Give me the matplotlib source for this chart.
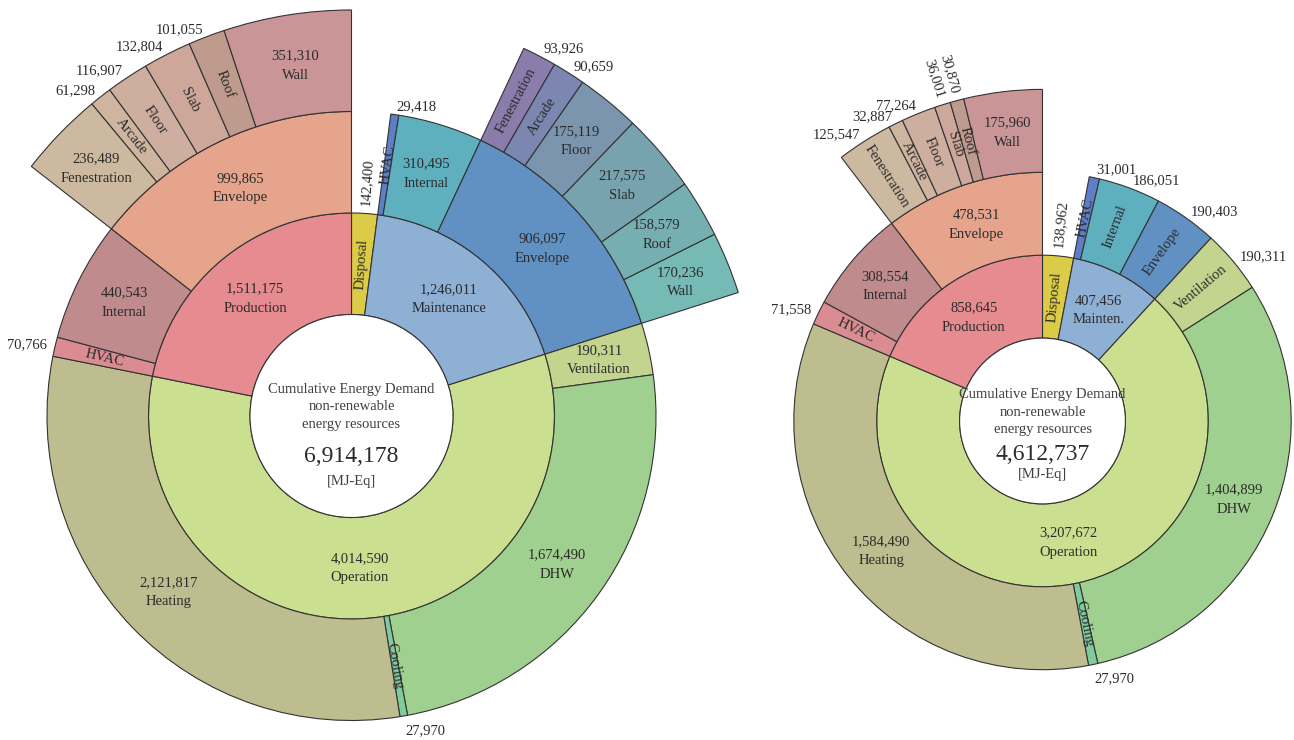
import numpy as np
import matplotlib.pyplot as plt
from matplotlib.patches import Wedge, Circle

plt.rcParams['font.family'] = ['Liberation Serif', 'DejaVu Serif']

# ---- data ----
top_parts = ['Disposal', 'Maintenance', 'Operation', 'Production']
maint_parts = ['HVAC', 'Internal', 'Envelope']
oper_parts = ['Ventilation', 'DHW', 'Cooling', 'Heating']
prod_parts = ['HVAC', 'Internal', 'Envelope']
env_parts = ['Fenestration', 'Arcade', 'Floor', 'Slab', 'Roof', 'Wall']

# left building
a_total = 6914178
a_top = [142400, 1246011, 4014590, 1511175]
a_maint = [29418, 310495, 906097]
a_oper = [190311, 1674490, 27970, 2121817]
a_prod = [70766, 440543, 999865]
a_prod_env = [236489, 61298, 116907, 132804, 101055, 351310]
a_maint_env = [93926, 90659, 175119, 217575, 158579, 170236]

# right building
b_total = 4612737
b_top = [138962, 407456, 3207672, 858645]
b_maint = [31001, 186051, 190403]
b_oper = [190311, 1404899, 27970, 1584490]
b_prod = [71558, 308554, 478531]
b_prod_env = [125547, 32887, 77264, 36001, 30870, 175960]

# ---- colours ----
top_colors = ['#dccb46', '#8fb0d5', '#cbdf90', '#e68b90']
maint_colors = ['#5e7fc6', '#5eb0be', '#6190c3']
oper_colors = ['#c3d48e', '#a0d08f', '#7fcb9e', '#bebd8f']
prod_colors = ['#db8c92', '#c08b8d', '#e6a48c']
prod_env_colors = ['#cdb9a0', '#cfb5a0', '#cdae9f', '#cca79a', '#bf9b8e', '#c99596']
maint_env_colors = ['#8a7cab', '#7b86b1', '#7a95ad', '#77a3af', '#76afb2', '#75bab5']

EDGE = '#333333'
TXT = '#2b2b2b'
FS = 10.5
U = 101.5  # ring width of the left chart in pixels


def segment(ax, cx, cy, r0, r1, a0, a1, color, name, value, mode):
    # a0, a1: clockwise degrees from 12 o'clock
    ax.add_patch(Wedge((cx, cy), r1, 90 - a1, 90 - a0, width=r1 - r0,
                       facecolor=color, edgecolor=EDGE, lw=0.8))
    mid = np.radians(90 - (a0 + a1) / 2)
    c, s = np.cos(mid), np.sin(mid)
    rm = (r0 + r1) / 2
    txt = f'{value:,}'
    if mode == 'in':
        ax.text(cx + rm * c, cy + rm * s, txt + '\n' + name, ha='center',
                va='center', fontsize=FS, color=TXT, linespacing=1.65)
        return
    deg = np.degrees(mid)
    rot = deg if c >= 0 else deg - 180
    ax.text(cx + rm * c, cy + rm * s, name, rotation=rot, rotation_mode='anchor',
            ha='center', va='center', fontsize=FS, color=TXT)
    ro = r1 + 8
    x, y = cx + ro * c, cy + ro * s
    ha = 'left' if c >= 0 else 'right'
    if mode == 'rad':
        va = 'top' if s < -0.9 else 'center'
        ax.text(x, y, txt, ha=ha, va=va, fontsize=FS, color=TXT)
    else:
        ax.text(x, y, txt, rotation=rot, rotation_mode='anchor', ha=ha,
                va='center', fontsize=FS, color=TXT)


def ring(ax, cx, cy, r0, r1, start, k, values, names, colors, modes):
    bounds = []
    a = start
    for v, n, col, m in zip(values, names, colors, modes):
        segment(ax, cx, cy, r0, r1, a, a + v * k, col, n, v, m)
        bounds.append(a)
        a += v * k
    return bounds


def chart(ax, cx, cy, total, top, top_names, top_modes, maint, maint_modes,
          oper, oper_modes, prod, prod_modes, prod_env, prod_env_modes,
          maint_env=None, maint_env_modes=None):
    u = U * np.sqrt(total / a_total)
    k = 360.0 / total
    tb = ring(ax, cx, cy, u, 2 * u, 0, k, top, top_names, top_colors, top_modes)
    mb = ring(ax, cx, cy, 2 * u, 3 * u, tb[1], k, maint, maint_parts,
              maint_colors, maint_modes)
    ring(ax, cx, cy, 2 * u, 3 * u, tb[2], k, oper, oper_parts, oper_colors, oper_modes)
    pb = ring(ax, cx, cy, 2 * u, 3 * u, tb[3], k, prod, prod_parts,
              prod_colors, prod_modes)
    ring(ax, cx, cy, 3 * u, 4 * u, pb[2], k, prod_env, env_parts,
         prod_env_colors, prod_env_modes)
    if maint_env is not None:
        ring(ax, cx, cy, 3 * u, 4 * u, mb[2], k, maint_env, env_parts,
             maint_env_colors, maint_env_modes)
    ax.add_patch(Circle((cx, cy), u, facecolor='white', edgecolor=EDGE, lw=0.8))
    ax.text(cx, cy + 9, 'Cumulative Energy Demand\nnon-renewable\nenergy resources',
            ha='center', va='center', fontsize=FS, color='#404040', linespacing=1.45)
    ax.text(cx, cy - 0.40 * u, f'{total:,}', ha='center', va='center',
            fontsize=17, color=TXT)
    ax.text(cx, cy - 0.65 * u, '[MJ-Eq]', ha='center', va='center',
            fontsize=FS, color='#404040')


fig = plt.figure(figsize=(12.94, 7.40), dpi=100)
ax = fig.add_axes([0, 0, 1, 1])
ax.set_xlim(0, 1294)
ax.set_ylim(0, 740)
ax.set_aspect('equal')
ax.axis('off')

chart(ax, 351.5, 324, a_total, a_top, top_parts, ['rad2', 'in', 'in', 'in'],
      a_maint, ['rad', 'in', 'in'],
      a_oper, ['in', 'in', 'rad', 'in'],
      a_prod, ['rad', 'in', 'in'],
      a_prod_env, ['in', 'rad', 'rad', 'rad', 'rad', 'in'],
      a_maint_env, ['rad', 'rad', 'in', 'in', 'in', 'in'])

chart(ax, 1042.5, 319, b_total, b_top,
      ['Disposal', 'Mainten.', 'Operation', 'Production'], ['rad2', 'in', 'in', 'in'],
      b_maint, ['rad', 'rad', 'rad'],
      b_oper, ['rad', 'in', 'rad', 'in'],
      b_prod, ['rad', 'in', 'in'],
      b_prod_env, ['rad', 'rad', 'rad', 'rad2', 'rad2', 'in'])

fig.savefig('out.png', dpi=100)
